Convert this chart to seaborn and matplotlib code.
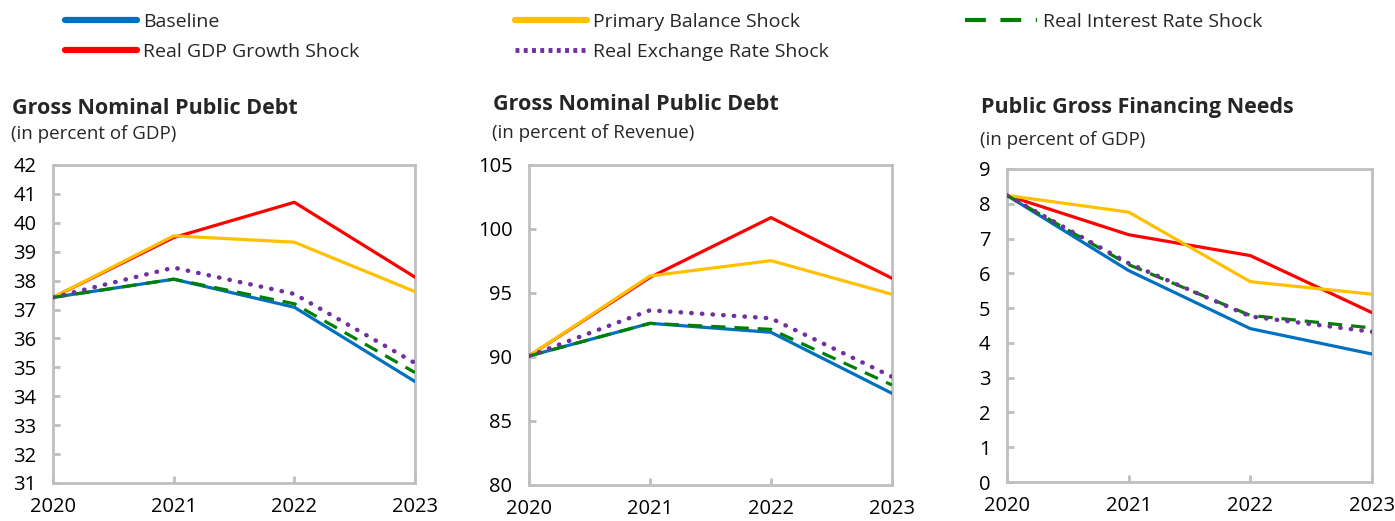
import matplotlib
matplotlib.use("Agg")
import matplotlib.pyplot as plt
import seaborn as sns
import pandas as pd

## data
years = [2020, 2021, 2022, 2023]
series_names = ["Baseline", "Real GDP Growth Shock", "Primary Balance Shock",
                "Real Exchange Rate Shock", "Real Interest Rate Shock"]

debt_gdp_baseline = [37.42, 38.05, 37.08, 34.51]
debt_gdp_growth = [37.42, 39.49, 40.71, 38.12]
debt_gdp_primary = [37.42, 39.55, 39.33, 37.62]
debt_gdp_exchange = [37.42, 38.45, 37.54, 35.15]
debt_gdp_interest = [37.42, 38.05, 37.20, 34.82]

debt_rev_baseline = [90.08, 92.63, 91.93, 87.16]
debt_rev_growth = [90.08, 96.22, 100.89, 96.15]
debt_rev_primary = [90.08, 96.33, 97.53, 94.90]
debt_rev_exchange = [90.08, 93.65, 93.02, 88.46]
debt_rev_interest = [90.08, 92.63, 92.16, 87.81]

gfn_baseline = [8.24, 6.08, 4.41, 3.68]
gfn_growth = [8.24, 7.11, 6.51, 4.87]
gfn_primary = [8.24, 7.76, 5.76, 5.40]
gfn_exchange = [8.24, 6.29, 4.76, 4.32]
gfn_interest = [8.24, 6.25, 4.79, 4.43]

sns.set_style("white")
plt.rcParams["font.family"] = ["Open Sans", "DejaVu Sans"]

colors = {"Baseline": "#0070C0", "Real GDP Growth Shock": "#FF0000",
          "Primary Balance Shock": "#FFC000", "Real Exchange Rate Shock": "#7030A0",
          "Real Interest Rate Shock": "#008000"}

fig = plt.figure(figsize=(13.95, 5.21), dpi=100)
W, H = 1395, 521


def px_axes(l, t, r, b):
    return fig.add_axes([l / W, 1 - b / H, (r - l) / W, (b - t) / H])


def draw(ax, vals, ylim, yticks):
    df = pd.DataFrame({"year": years * 5,
                       "value": sum(vals, []),
                       "series": [n for n in series_names for _ in years]})
    for name in series_names:
        d = df[df.series == name]
        if name == "Real Interest Rate Shock":
            sns.lineplot(data=d, x="year", y="value", ax=ax, color=colors[name],
                         lw=2.3, linestyle=(0, (4.5, 2.8)), zorder=4)
        elif name == "Real Exchange Rate Shock":
            sns.lineplot(data=d, x="year", y="value", ax=ax, color=colors[name],
                         lw=3.2, linestyle=(0, (0.1, 2.3)), zorder=5,
                         dash_capstyle="round")
        else:
            sns.lineplot(data=d, x="year", y="value", ax=ax, color=colors[name],
                         lw=2.3, zorder=3)
    ax.set_xlim(2020, 2023)
    ax.set_ylim(*ylim)
    ax.set_xticks(years)
    ax.set_yticks(yticks)
    ax.set_xlabel("")
    ax.set_ylabel("")
    for s in ax.spines.values():
        s.set_color("#BFBFBF")
        s.set_linewidth(2)
    ax.tick_params(axis="both", direction="in", length=5, width=2, color="#BFBFBF",
                   labelsize=14.5, labelcolor="black", left=True, bottom=True)
    ax.tick_params(axis="y", pad=12)
    ax.tick_params(axis="x", pad=10)


ax1 = px_axes(53, 165, 415, 483)
draw(ax1, [debt_gdp_baseline, debt_gdp_growth, debt_gdp_primary,
           debt_gdp_exchange, debt_gdp_interest], (31, 42), range(31, 43))
ax2 = px_axes(529, 165, 892, 485)
draw(ax2, [debt_rev_baseline, debt_rev_growth, debt_rev_primary,
           debt_rev_exchange, debt_rev_interest], (80, 105), range(80, 106, 5))
ax3 = px_axes(1007, 169, 1372, 482)
draw(ax3, [gfn_baseline, gfn_growth, gfn_primary,
           gfn_exchange, gfn_interest], (0, 9), range(0, 10))

## titles
for x, y, title, sub, gap in [(12, 108, "Gross Nominal Public Debt", "(in percent of GDP)", 26),
                              (493, 104, "Gross Nominal Public Debt", "(in percent of Revenue)", 29),
                              (981, 108, "Public Gross Financing Needs", "(in percent of GDP)", 32)]:
    fig.text(x / W, 1 - y / H, title, fontsize=15.5, fontweight="bold", va="center")
    fig.text((x - 1) / W, 1 - (y + gap) / H, sub, fontsize=13.5, va="center")

## legend, one per column
cols = [(65, ["Baseline", "Real GDP Growth Shock"]),
        (515, ["Primary Balance Shock", "Real Exchange Rate Shock"]),
        (965, ["Real Interest Rate Shock"])]
for x, names in cols:
    hs = []
    for n in names:
        h = plt.Line2D([], [], color=colors[n], lw=4.5)
        if n == "Real Exchange Rate Shock":
            h = plt.Line2D([], [], color=colors[n], lw=3.5, linestyle=(0, (0.8, 0.9)))
        if n == "Real Interest Rate Shock":
            h = plt.Line2D([], [], color=colors[n], lw=3, linestyle=(0, (5, 3.5)))
        hs.append(h)
    fig.legend(hs, names, loc="upper left", bbox_to_anchor=(x / W, 1 - 13 / H),
               frameon=False, fontsize=14, handlelength=3.7, handletextpad=0.3,
               labelspacing=0.6, borderpad=0, borderaxespad=0)

fig.savefig("out.png", dpi=100)
